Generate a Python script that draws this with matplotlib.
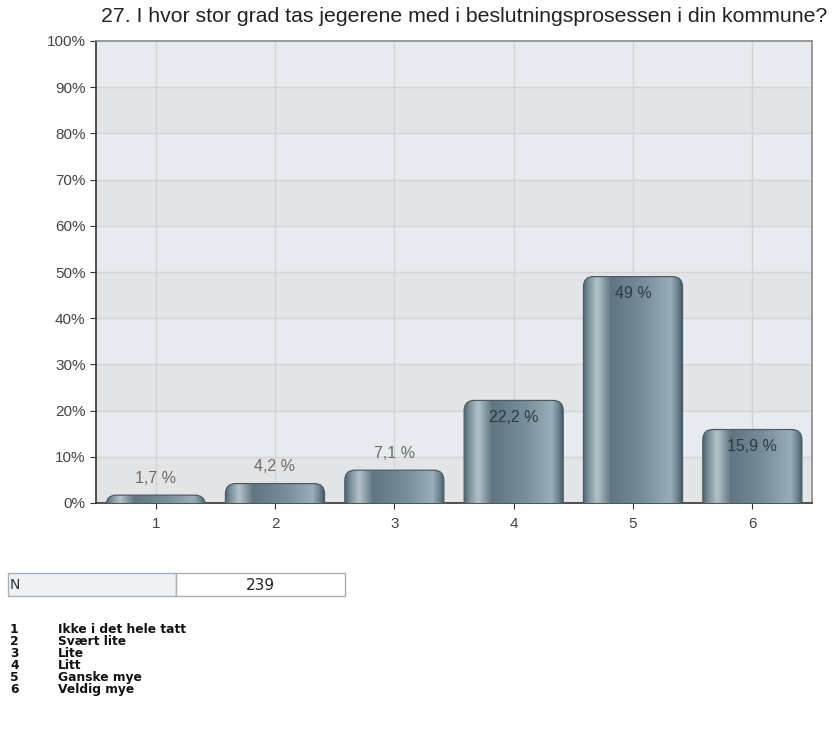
import numpy as np
import matplotlib
matplotlib.use("Agg")
import matplotlib.pyplot as plt
from matplotlib.patches import FancyBboxPatch, Rectangle

title = "27. I hvor stor grad tas jegerene med i beslutningsprosessen i din kommune?"
categories = ["1", "2", "3", "4", "5", "6"]
values = [1.7, 4.2, 7.1, 22.2, 49.0, 15.9]
value_labels = ["1,7 %", "4,2 %", "7,1 %", "22,2 %", "49 %", "15,9 %"]
n_total = 239
answer_labels = ["Ikke i det hele tatt", "Svært lite", "Lite", "Litt",
                 "Ganske mye", "Veldig mye"]

fig = plt.figure(figsize=(8.34, 7.35), dpi=100)
ax = fig.add_axes([96 / 834, 232 / 735, 716 / 834, 462 / 735])

x = np.arange(len(categories))
ax.set_xlim(-0.5, len(categories) - 0.5)
ax.set_ylim(0, 100)

# alternating bands
for i, lo in enumerate(range(0, 100, 10)):
    ax.axhspan(lo, lo + 10, color="#e3e4e6" if i % 2 == 0 else "#e7eaee", zorder=0, lw=0)
for yv in range(10, 100, 10):
    ax.axhline(yv, color="#d3d4d6", lw=1, zorder=1)
for xv in x:
    ax.axvline(xv, color="#d3d4d6", lw=1, zorder=1)

# cylinder like shading
stops = [0.0, 0.05, 0.14, 0.28, 0.6, 0.88, 0.95, 1.0]
cols = np.array([[0x50, 0x66, 0x70], [0x78, 0x8f, 0x99], [0xb4, 0xc3, 0xca],
                 [0x5f, 0x76, 0x82], [0x76, 0x8e, 0x9a], [0x98, 0xae, 0xb8],
                 [0x6c, 0x83, 0x8e], [0x42, 0x55, 0x5e]]) / 255
t = np.linspace(0, 1, 200)
grad = np.stack([np.interp(t, stops, cols[:, c]) for c in range(3)], axis=-1)[None, :, :]

bw = 0.83
aspect = (716 / 6) / (462 / 100)
for xi, v, lab in zip(x, values, value_labels):
    patch = FancyBboxPatch((xi - bw / 2, -4), bw, v + 4,
                           boxstyle="round,pad=0,rounding_size=0.085",
                           mutation_aspect=aspect,
                           fc="none", ec="#4a5d66", lw=0.9, zorder=4)
    ax.add_patch(patch)
    im = ax.imshow(grad, extent=[xi - bw / 2, xi + bw / 2, 0, v], aspect="auto",
                   zorder=3, interpolation="bilinear")
    im.set_clip_path(patch)
    if v >= 10:
        ax.text(xi, v - 2.0, lab, ha="center", va="top", fontsize=11.5,
                color="#2f3a40", family="Liberation Sans", zorder=5)
    else:
        ax.text(xi, v + 2.0, lab, ha="center", va="bottom", fontsize=11.5,
                color="#6a6a6a", family="Liberation Sans", zorder=5)

ax.set_aspect("auto")
ax.set_xticks(x)
ax.set_xticklabels(categories)
ax.set_yticks(range(0, 101, 10))
ax.set_yticklabels([f"{v}%" for v in range(0, 101, 10)])
ax.tick_params(axis="both", direction="out", length=4, color="#333333",
               labelsize=11, labelcolor="#444444")
for lbl in ax.get_xticklabels() + ax.get_yticklabels():
    lbl.set_family("Liberation Sans")
ax.tick_params(axis="x", pad=6)
for s in ["left", "bottom"]:
    ax.spines[s].set_color("#333333")
    ax.spines[s].set_linewidth(1.2)
for s in ["top", "right"]:
    ax.spines[s].set_color("#8a8a8a")
    ax.spines[s].set_linewidth(1.2)

fig.text(464 / 834, 1 - 17 / 735, title, ha="center", va="center",
         fontsize=15.3, family="Liberation Sans", color="#222222")

# N table
fig.patches.append(Rectangle((8 / 834, 1 - 596 / 735), 168 / 834, 23 / 735,
                             transform=fig.transFigure, fc="#eef2f5", ec="#a8b0b8", lw=1))
fig.patches.append(Rectangle((176 / 834, 1 - 596 / 735), 169 / 834, 23 / 735,
                             transform=fig.transFigure, fc="white", ec="#a8b0b8", lw=1))
fig.text(10 / 834, 1 - 585 / 735, "N", ha="left", va="center", fontsize=10,
         family="DejaVu Sans", color="#333333")
fig.text(260 / 834, 1 - 585 / 735, str(n_total), ha="center", va="center",
         fontsize=11, family="DejaVu Sans", color="#222222")

for i, lab in enumerate(answer_labels):
    yy = 1 - (633 + 12 * i) / 735
    fig.text(10 / 834, yy, categories[i], ha="left", va="baseline", fontsize=8.8,
             fontweight="bold", family="DejaVu Sans", color="#111111")
    fig.text(58 / 834, yy, lab, ha="left", va="baseline", fontsize=8.8,
             fontweight="bold", family="DejaVu Sans", color="#111111")

fig.savefig("out.png", dpi=100)
